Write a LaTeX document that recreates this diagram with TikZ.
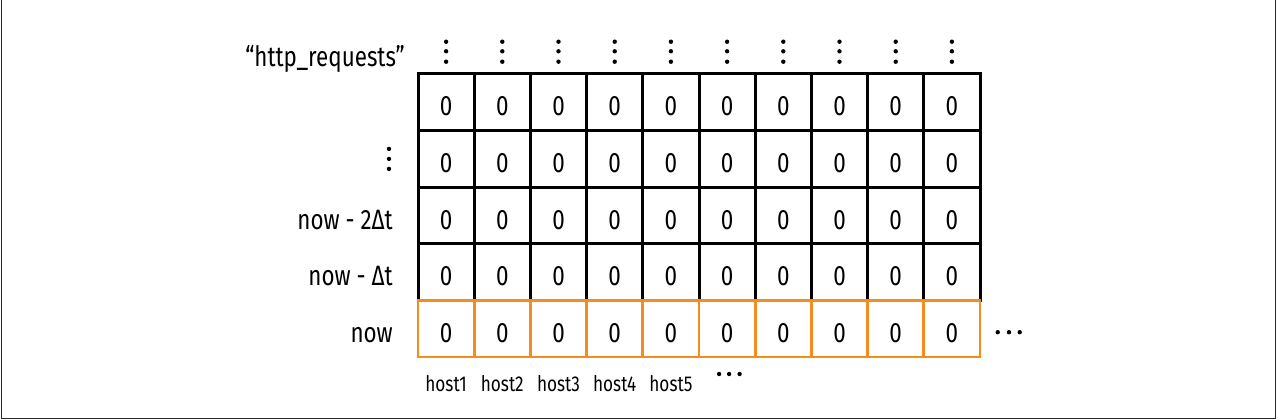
\documentclass[tikz,border=0pt]{standalone}
\usepackage{fontspec}
\setmainfont[FakeStretch=0.8]{Fira Sans}
\definecolor{frameg}{RGB}{40,40,40}
\definecolor{accent}{RGB}{247,140,30}
\tikzset{
  cell/.style={draw=black, line width=3pt, minimum width=56.2pt, minimum height=56.6pt,
    inner sep=0pt, outer sep=0pt, text height=27pt, text depth=0pt, font=\fontsize{28}{30}\selectfont},
  nowcell/.style={cell, draw=accent, line width=2.8pt},
  rowlab/.style={anchor=base east, inner sep=0pt, font=\fontsize{28}{30}\selectfont},
  hostlab/.style={anchor=base, inner sep=0pt, font=\fontsize{21.5}{24}\selectfont},
  dot/.style={fill=black}
}
\begin{document}
\begin{tikzpicture}[x=1pt,y=-1pt]
\useasboundingbox (0,0) rectangle (1278,420);
% frame
\draw[frameg, line width=1.5pt] (1.5,0) -- (1.5,418.5) -- (1275.5,418.5) -- (1275.5,0);
% cells
\foreach \r in {1,...,4}{
  \foreach \c in {1,...,10}{
    \node[cell] (c-\r-\c) at ({418+56.2*(\c-0.5)},{74+56.6*(\r-0.5)}) {0};
  }
}
\foreach \c in {1,...,10}{
  \node[nowcell] (c-5-\c) at ({418+56.2*(\c-0.5)},{74+56.6*4.5}) {0};
}
% column dots
\foreach \c in {1,...,10}{
  \foreach \s in {12.3,22.7,32.3}{
    \fill[dot] ([yshift=\s pt]c-1-\c.north) circle (2.2pt);
  }
}
% row labels
\node[rowlab] (lhttp) at ([xshift=-13pt,yshift=7.5pt]c-1-1.north west) {“http\_requests”};
\foreach \s in {-10,0,10}{
  \fill[dot] ([xshift=-29pt,yshift=\s pt]c-2-1.west) circle (2.2pt);
}
\node[rowlab] (l3) at ([xshift=-25pt,yshift=-13.5pt]c-3-1.west) {now - 2Δt};
\node[rowlab] (l4) at ([xshift=-25pt,yshift=-13.5pt]c-4-1.west) {now - Δt};
\node[rowlab] (l5) at ([xshift=-25pt,yshift=-13.5pt]c-5-1.west) {now};
% right dots
\foreach \s in {17.7,29,39.7}{
  \fill[dot] ([xshift=\s pt,yshift=-3.5pt]c-5-10.east) circle (2.2pt);
}
% host labels
\foreach \c in {1,...,5}{
  \node[hostlab] (h\c) at ([yshift=-34pt]c-5-\c.south) {host\c};
}
\foreach \s in {-8,2,12.5}{
  \fill[dot] ([xshift=\s pt,yshift=-17pt]c-5-6.south) circle (2.2pt);
}
\end{tikzpicture}
\end{document}
